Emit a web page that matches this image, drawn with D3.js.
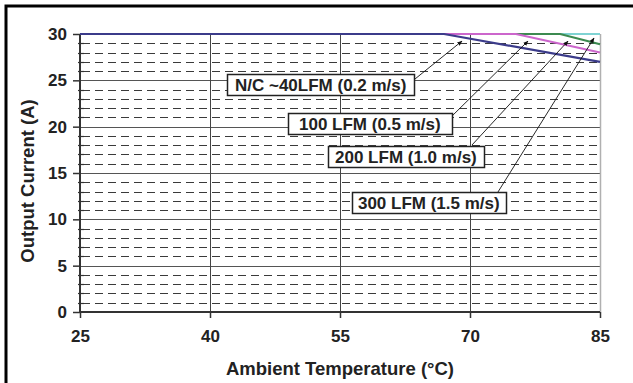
<!DOCTYPE html>
<html>
<head>
<meta charset="utf-8">
<script src="https://cdn.jsdelivr.net/npm/d3@7"></script>
<style>
  html, body { margin: 0; padding: 0; background: #fff; }
  svg { display: block; font-family: "Liberation Sans", Arial, sans-serif; }
</style>
</head>
<body>
<div id="chart"></div>
<script>
// derating curves, ambient temp (C) vs output current (A)
const ncTemps = [25, 67, 85];
const ncAmps = [30, 30, 27];
const lfm100Temps = [25, 75.3, 85];
const lfm100Amps = [30, 30, 28];
const lfm200Temps = [25, 80.4, 85];
const lfm200Amps = [30, 30, 28.9];
const lfm300Temps = [25, 85];
const lfm300Amps = [30, 30];

const xTicks = [25, 40, 55, 70, 85];
const yTicks = [0, 5, 10, 15, 20, 25, 30];

const seriesNames = ["300 LFM (1.5 m/s)", "200 LFM (1.0 m/s)", "100 LFM (0.5 m/s)", "N/C ~40LFM (0.2 m/s)"];

const width = 633, height = 383;
const plot = { left: 80, right: 600, top: 34, bottom: 312 };

const svg = d3.select("#chart").append("svg")
    .attr("width", width)
    .attr("height", height);

const x = d3.scaleLinear().domain([25, 85]).range([plot.left, plot.right]);
const y = d3.scaleLinear().domain([0, 30]).range([plot.bottom, plot.top]);

// outer frame, only left and top edges show
svg.append("path")
    .attr("d", `M6,${height} V6 H${width}`)
    .attr("fill", "none")
    .attr("stroke", "#000")
    .attr("stroke-width", 3);

// minor dashed grid, every 1 A
const minor = d3.range(1, 30).filter(v => v % 5 !== 0);
svg.append("g").selectAll("line")
    .data(minor).enter().append("line")
    .attr("x1", plot.left + 2).attr("x2", plot.right)
    .attr("y1", d => Math.round(y(d)) + 0.5).attr("y2", d => Math.round(y(d)) + 0.5)
    .attr("stroke", "#3a3a3a")
    .attr("stroke-width", 1)
    .attr("stroke-dasharray", "8,5");

// major horizontal grid
svg.append("g").selectAll("line")
    .data(yTicks.filter(v => v > 0 && v < 30)).enter().append("line")
    .attr("x1", plot.left).attr("x2", plot.right)
    .attr("y1", d => Math.round(y(d)) + 0.5).attr("y2", d => Math.round(y(d)) + 0.5)
    .attr("stroke", "#555")
    .attr("stroke-width", 1);

// vertical grid
svg.append("g").selectAll("line")
    .data(xTicks.slice(1)).enter().append("line")
    .attr("x1", d => Math.round(x(d)) + 0.5).attr("x2", d => Math.round(x(d)) + 0.5)
    .attr("y1", plot.top).attr("y2", plot.bottom)
    .attr("stroke", d => d === 85 ? "#b0b0b0" : "#444")
    .attr("stroke-width", d => d === 85 ? 1.5 : 1);

// y axis with major + minor ticks
const yAxis = d3.axisLeft(y).tickValues(yTicks).tickSize(7).tickPadding(6);
const gy = svg.append("g").attr("transform", `translate(${plot.left},0)`).call(yAxis);
gy.select(".domain").remove();
gy.selectAll(".tick line").attr("stroke", "#333").attr("stroke-width", 1.5);
gy.selectAll(".tick text")
    .attr("font-size", 17).attr("font-weight", "bold").attr("fill", "#222")
    .attr("font-family", "Liberation Sans, Arial, sans-serif");

svg.append("g").selectAll("line")
    .data(minor).enter().append("line")
    .attr("x1", plot.left - 2).attr("x2", plot.left + 4)
    .attr("y1", d => Math.round(y(d)) + 0.5).attr("y2", d => Math.round(y(d)) + 0.5)
    .attr("stroke", "#333").attr("stroke-width", 1.2);

// x axis
const xAxis = d3.axisBottom(x).tickValues(xTicks).tickSize(6).tickPadding(12);
const gx = svg.append("g").attr("transform", `translate(0,${plot.bottom})`).call(xAxis);
gx.select(".domain").remove();
gx.selectAll(".tick line").attr("stroke", "#333").attr("stroke-width", 1.5);
gx.selectAll(".tick text")
    .attr("font-size", 17).attr("font-weight", "bold").attr("fill", "#222")
    .attr("font-family", "Liberation Sans, Arial, sans-serif");

// axis lines
svg.append("line")
    .attr("x1", plot.left).attr("x2", plot.left)
    .attr("y1", plot.top).attr("y2", plot.bottom)
    .attr("stroke", "#333").attr("stroke-width", 2);
svg.append("line")
    .attr("x1", plot.left).attr("x2", plot.right)
    .attr("y1", plot.bottom).attr("y2", plot.bottom)
    .attr("stroke", "#333").attr("stroke-width", 2);

// curves, drawn so N/C ends up on top
const series = [
    { name: seriesNames[0], t: lfm300Temps, a: lfm300Amps, color: "#7fd3d3" },
    { name: seriesNames[1], t: lfm200Temps, a: lfm200Amps, color: "#3c8a50" },
    { name: seriesNames[2], t: lfm100Temps, a: lfm100Amps, color: "#cc66cc" },
    { name: seriesNames[3], t: ncTemps, a: ncAmps, color: "#3b3b8a" }
];
const line = d3.line().x(d => x(d[0])).y(d => y(d[1]));
svg.append("g").selectAll("path")
    .data(series).enter().append("path")
    .attr("d", s => line(s.t.map((t, i) => [t, s.a[i]])))
    .attr("fill", "none")
    .attr("stroke", s => s.color)
    .attr("stroke-width", 2.2);

// callouts (positions in data units)
svg.append("defs").append("marker")
    .attr("id", "arrowhead")
    .attr("viewBox", "0 0 10 10")
    .attr("refX", 9).attr("refY", 5)
    .attr("orient", "auto")
    .attr("markerWidth", 6).attr("markerHeight", 6)
    .append("polygon")
    .attr("points", "0 1, 10 5, 0 9")
    .attr("fill", "#111");

const callouts = [
    { name: seriesNames[3], boxT: 41.96, boxA: 24.55, pad: 8, fromT: 63.08, fromA: 24.71, toT: 69.08, toA: 29.24 },
    { name: seriesNames[2], boxT: 49.0, boxA: 20.34, pad: 11, fromT: 67.69, fromA: 20.93, toT: 76.69, toA: 29.24 },
    { name: seriesNames[1], boxT: 53.62, boxA: 16.78, pad: 7, fromT: 70.23, fromA: 18.02, toT: 81.31, toA: 29.24 },
    { name: seriesNames[0], boxT: 56.38, boxA: 11.82, pad: 6, fromT: 73.23, fromA: 12.95, toT: 84.31, toA: 29.57 }
];

const cg = svg.append("g");
cg.selectAll("line")
    .data(callouts).enter().append("line")
    .attr("x1", d => x(d.fromT)).attr("y1", d => y(d.fromA))
    .attr("x2", d => x(d.toT)).attr("y2", d => y(d.toA))
    .attr("stroke", "#111").attr("stroke-width", 0.9)
    .attr("marker-end", "url(#arrowhead)");

callouts.forEach(c => {
    const g = cg.append("g");
    const rect = g.append("rect");
    const text = g.append("text")
        .attr("x", x(c.boxT) + c.pad)
        .attr("y", y(c.boxA))
        .attr("dy", "0.36em")
        .attr("font-size", 17)
        .attr("font-weight", "bold")
        .attr("fill", "#222")
        .text(c.name);
    const w = text.node().getComputedTextLength();
    rect.attr("x", Math.round(x(c.boxT)) + 0.5)
        .attr("y", Math.round(y(c.boxA) - 10.5) + 0.5)
        .attr("width", Math.round(w + 2 * c.pad))
        .attr("height", 21)
        .attr("fill", "#fff")
        .attr("stroke", "#222")
        .attr("stroke-width", 1.5);
});

// axis titles
svg.append("text")
    .attr("x", (plot.left + plot.right) / 2)
    .attr("y", 375)
    .attr("text-anchor", "middle")
    .attr("font-size", 18.5).attr("font-weight", "bold").attr("fill", "#222")
    .text("Ambient Temperature (°C)");

svg.append("text")
    .attr("transform", `translate(34,181) rotate(-90)`)
    .attr("text-anchor", "middle")
    .attr("font-size", 18.5).attr("font-weight", "bold").attr("fill", "#222")
    .text("Output Current (A)");
</script>
</body>
</html>
